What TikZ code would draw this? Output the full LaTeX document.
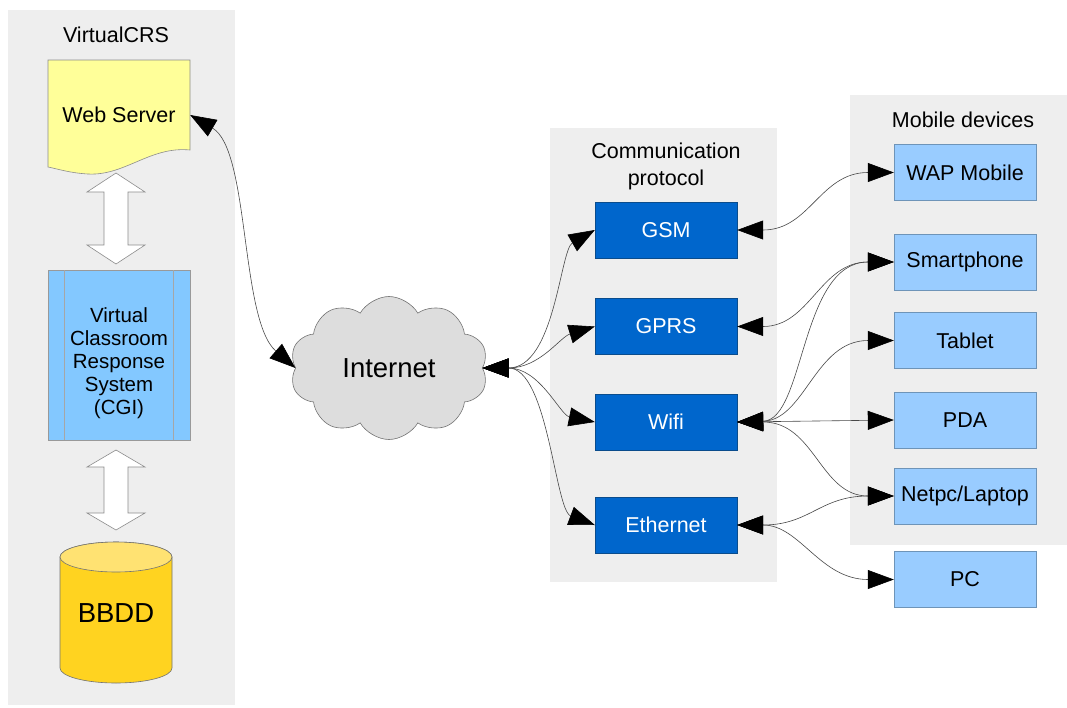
\documentclass[tikz,border=0pt]{standalone}
\usepackage{fontspec}
\setmainfont{Liberation Sans}
\usetikzlibrary{arrows.meta,shapes.symbols}
\definecolor{panel}{HTML}{EEEEEE}
\definecolor{webfill}{HTML}{FFFF99}
\definecolor{cgifill}{HTML}{83C8FF}
\definecolor{dbfill}{HTML}{FFD320}
\definecolor{dbtop}{HTML}{FFE272}
\definecolor{dark}{HTML}{0066CC}
\definecolor{darkline}{HTML}{0A4C8C}
\definecolor{light}{HTML}{99CCFF}
\definecolor{lightline}{HTML}{6E94B8}
\definecolor{cloudfill}{HTML}{DDDDDD}
\newcommand{\txt}{\fontsize{21.5}{24}\selectfont}
\newcommand{\bigtxt}{\fontsize{27.5}{30}\selectfont}
\begin{document}
\begin{tikzpicture}[x=1pt,y=-1pt,
  panelbox/.style={fill=panel,draw=none},
  protobox/.style={draw=darkline,fill=dark,text=white,minimum width=142pt,minimum height=56pt,inner sep=0pt,font=\txt},
  devbox/.style={draw=lightline,fill=light,text=black,minimum width=142pt,minimum height=56pt,inner sep=0pt,font=\txt},
  titletxt/.style={font=\txt,align=center,inner sep=0pt},
  conn/.style={line width=0.6pt,draw=black!72,
    {Triangle[length=26pt,width=19pt,color=black,fill=black]}-{Triangle[length=26pt,width=19pt,color=black,fill=black]}},
  blockarrow/.style={fill=white,draw=black!45,line width=0.6pt}
]
\useasboundingbox (0,0) rectangle (1067,707);
% panels
\path[panelbox] (8,10) rectangle (235,705);
\path[panelbox] (550,128) rectangle (777,582);
\path[panelbox] (850,95) rectangle (1067,545);
% titles
\node[titletxt] (ttlcrs) at (116,35) {VirtualCRS};
\node[titletxt,font=\fontsize{21.5}{27}\selectfont] (ttlproto) at (666,166) {Communication\\protocol};
\node[titletxt] (ttlmob) at (963,120) {Mobile devices};
% web server document shape
\draw[fill=webfill,draw=black!45,line width=0.6pt] (48,60) -- (190,60) -- (190,150)
  .. controls (150,146) and (125,176) .. (88,174)
  .. controls (70,173) and (58,169) .. (48,167) -- cycle;
\node[font=\txt,minimum width=142pt,inner sep=0pt] (web) at (119,115) {Web Server};
% block arrows
\draw[blockarrow] (116,173) -- (145,192) -- (128,192) -- (128,245) -- (145,245) -- (116,264)
  -- (87,245) -- (104,245) -- (104,192) -- (87,192) -- cycle;
\draw[blockarrow] (116,450) -- (145,467) -- (128,467) -- (128,513) -- (145,513) -- (116,530)
  -- (87,513) -- (104,513) -- (104,467) -- (87,467) -- cycle;
% CGI box
\draw[fill=cgifill,draw=black!40,line width=0.6pt] (48,270) rectangle (190,440);
\draw[draw=black!35,line width=0.5pt] (64,270) -- (64,440) (173,270) -- (173,440);
\node[font=\fontsize{20.5}{23}\selectfont,align=center,inner sep=0pt] (cgi) at (119,363)
  {Virtual\\Classroom\\Response\\System\\(CGI)};
% database cylinder
\path[fill=dbfill,draw=black!55,line width=0.6pt] (60,557) -- (60,668)
  arc[start angle=180,end angle=0,x radius=56,y radius=15] -- (172,557)
  arc[start angle=0,end angle=-180,x radius=56,y radius=15] -- cycle;
\draw[fill=dbtop,draw=black!55,line width=0.6pt] (116,557) ellipse[x radius=56,y radius=15];
\node[font=\bigtxt,inner sep=0pt] (db) at (116,613) {BBDD};
% cloud
\node[cloud,cloud puffs=10,cloud puff arc=120,aspect=1.4,cloud ignores aspect,
  minimum width=198pt,minimum height=143pt,inner sep=0pt,
  fill=cloudfill,draw=black!55,line width=0.6pt,font=\bigtxt] (inet) at (389,368) {Internet};
% protocol boxes
\node[protobox] (gsm) at (666,230) {GSM};
\node[protobox] (gprs) at (666,326.5) {GPRS};
\node[protobox] (wifi) at (666,422) {Wifi};
\node[protobox] (eth) at (666,525) {Ethernet};
% device boxes
\node[devbox] (wap) at (965,172.5) {WAP Mobile};
\node[devbox] (smart) at (965,262) {Smartphone};
\node[devbox] (tablet) at (965,340.5) {Tablet};
\node[devbox] (pda) at (965,420) {PDA};
\node[devbox] (netpc) at (965,496) {Netpc/Laptop};
\node[devbox] (pc) at (965,579.5) {PC};
% connectors
\draw[conn] (web.east) .. controls (250,150) and (240,320) .. (inet.west);
\draw[conn] (inet.east) .. controls (555,368) and (560,250) .. (gsm.west);
\draw[conn] (inet.east) .. controls (540,368) and (560,337) .. (gprs.west);
\draw[conn] (inet.east) .. controls (540,368) and (560,415) .. (wifi.west);
\draw[conn] (inet.east) .. controls (548,368) and (555,510) .. (eth.west);
\draw[conn] (gsm.east) .. controls (810,230) and (820,172.5) .. (wap.west);
\draw[conn] (gprs.east) .. controls (810,326.5) and (820,262) .. (smart.west);
\draw[conn] (wifi.east) .. controls (805,420) and (800,262) .. (smart.west);
\draw[conn] (wifi.east) .. controls (805,420) and (815,340.5) .. (tablet.west);
\draw[conn] (wifi.east) -- (pda.west);
\draw[conn] (wifi.east) .. controls (815,422) and (820,496) .. (netpc.west);
\draw[conn] (eth.east) .. controls (810,525) and (820,496) .. (netpc.west);
\draw[conn] (eth.east) .. controls (800,525) and (820,579.5) .. (pc.west);
\end{tikzpicture}
\end{document}
